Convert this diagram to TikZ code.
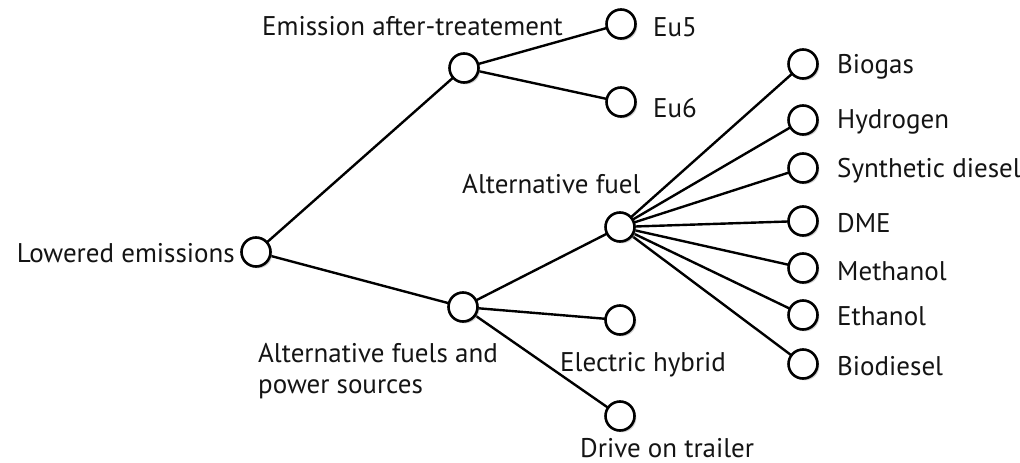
\documentclass[tikz,border=0pt]{standalone}
\usepackage{fontspec}
\setmainfont{PT Sans}
\usetikzlibrary{shadows}
\pgfdeclarelayer{back}
\pgfsetlayers{back,main}
\begin{document}
\begin{tikzpicture}[x=1pt,y=-1pt,
  dot/.style={circle,draw=black,line width=2.6pt,fill=white,minimum size=29pt,inner sep=0pt,
    drop shadow={shadow xshift=1.8pt,shadow yshift=-1.8pt,fill=black!40,opacity=0.5}},
  lbl/.style={font=\fontsize{27}{31}\selectfont,inner sep=0pt,text=black!92},
  link/.style={line width=2.4pt}]
\useasboundingbox (0,0) rectangle (1020,463);

% nodes of the tree
\node[dot] (root) at (256,252) {};
\node[dot] (eat)  at (464,68) {};
\node[dot] (eu5)  at (621,24) {};
\node[dot] (eu6)  at (621,102) {};
\node[dot] (afp)  at (463,307) {};
\node[dot] (af)   at (620,227) {};
\node[dot] (eh)   at (620,320) {};
\node[dot] (dt)   at (620,416) {};
\node[dot] (bg)   at (803,64) {};
\node[dot] (hy)   at (803,120) {};
\node[dot] (sd)   at (803,168) {};
\node[dot] (dme)  at (803,221) {};
\node[dot] (me)   at (803,268) {};
\node[dot] (et)   at (803,315) {};
\node[dot] (bd)   at (803,364) {};

% white page and the connectors, behind the circles
\begin{pgfonlayer}{back}
\fill[white] (0,0) rectangle (1020,463);
\draw[link] (root.center) -- (eat.center);
\draw[link] (root.center) -- (afp.center);
\draw[link] (eat.center) -- (eu5.center);
\draw[link] (eat.center) -- (eu6.center);
\draw[link] (afp.center) -- (af.center);
\draw[link] (afp.center) -- (eh.center);
\draw[link] (afp.center) -- (dt.center);
\foreach \t in {bg,hy,sd,dme,me,et,bd} \draw[link] (af.center) -- (\t.center);
\end{pgfonlayer}

% labels
\node[lbl,anchor=base east] (lroot) at (235,262) {Lowered emissions};
\node[lbl,anchor=base west] (leat) at (262,35) {Emission after-treatement};
\node[lbl,anchor=base west] (leu5) at (653,36) {Eu5};
\node[lbl,anchor=base west] (leu6) at (653,117) {Eu6};
\node[lbl,anchor=base west] (laf) at (462,193) {Alternative fuel};
\node[lbl,anchor=base west,align=left] (lafp) at (258,393) {Alternative fuels and\\power sources};
\node[lbl,anchor=base west] (leh) at (560,371) {Electric hybrid};
\node[lbl,anchor=base west] (ldt) at (580,457) {Drive on trailer};
\node[lbl,anchor=base west] (lbg) at (837,73) {Biogas};
\node[lbl,anchor=base west] (lhy) at (837,128) {Hydrogen};
\node[lbl,anchor=base west] (lsd) at (837,177) {Synthetic diesel};
\node[lbl,anchor=base west] (ldme) at (837,232) {DME};
\node[lbl,anchor=base west] (lme) at (837,280) {Methanol};
\node[lbl,anchor=base west] (let) at (837,325) {Ethanol};
\node[lbl,anchor=base west] (lbd) at (837,375) {Biodiesel};
\end{tikzpicture}
\end{document}
